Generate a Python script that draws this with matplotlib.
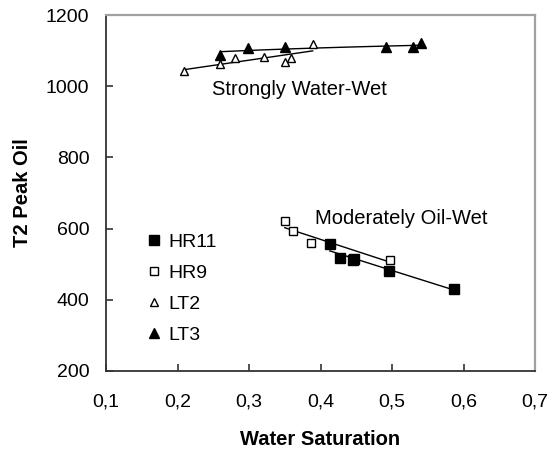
# Water saturation vs T2 peak oil, with trend lines per core
import matplotlib
matplotlib.use('Agg')
import matplotlib.pyplot as plt
import numpy as np

plt.rcParams['font.family'] = ['Liberation Sans', 'DejaVu Sans']

# data
hr11_sw = [0.413, 0.427, 0.445, 0.447, 0.496, 0.587]
hr11_t2 = [556, 517, 511, 514, 482, 431]
hr9_sw = [0.350, 0.362, 0.386, 0.497]
hr9_t2 = [620, 592, 559, 511]
lt2_sw = [0.209, 0.260, 0.280, 0.321, 0.350, 0.359, 0.389]
lt2_t2 = [1044, 1063, 1078, 1083, 1067, 1078, 1119]
lt3_sw = [0.260, 0.299, 0.350, 0.491, 0.530, 0.540]
lt3_t2 = [1089, 1106, 1111, 1109, 1109, 1120]

x_ticks = [0.1, 0.2, 0.3, 0.4, 0.5, 0.6, 0.7]
x_labels = ['0,1', '0,2', '0,3', '0,4', '0,5', '0,6', '0,7']
y_ticks = [200, 400, 600, 800, 1000, 1200]


def linear_trend(x, y):
    x = np.asarray(x)
    k, b = np.polyfit(x, y, 1)
    xs = np.linspace(x.min(), x.max(), 50)
    return xs, k * xs + b


def log_trend(x, y):
    x = np.asarray(x)
    k, b = np.polyfit(np.log(x), y, 1)
    xs = np.linspace(x.min(), x.max(), 50)
    return xs, k * np.log(xs) + b


fig = plt.figure(figsize=(5.51, 4.51), dpi=100)
ax = fig.add_axes([0.1924, 0.1774, 0.7786, 0.7893])

# trend lines first so markers sit on top
for xs, ys in [linear_trend(hr11_sw, hr11_t2), linear_trend(hr9_sw, hr9_t2),
               linear_trend(lt2_sw, lt2_t2), log_trend(lt3_sw, lt3_t2)]:
    ax.plot(xs, ys, color='black', lw=1.0, zorder=2)

ax.plot(hr11_sw, hr11_t2, ls='none', marker='s', ms=6.5, mfc='black', mec='black',
        label='HR11', zorder=3)
ax.plot(hr9_sw, hr9_t2, ls='none', marker='s', ms=5.5, mfc='white', mec='black',
        mew=1.0, label='HR9', zorder=3)
ax.plot(lt2_sw, lt2_t2, ls='none', marker='^', ms=6, mfc='white', mec='black',
        mew=1.0, label='LT2', zorder=3)
ax.plot(lt3_sw, lt3_t2, ls='none', marker='^', ms=7, mfc='black', mec='black',
        label='LT3', zorder=3)

ax.text(0.371, 992, 'Strongly Water-Wet', fontsize=14.5, ha='center', va='center')
ax.text(0.5126, 627, 'Moderately Oil-Wet', fontsize=14.5, ha='center', va='center')

ax.set_xlim(0.1, 0.7)
ax.set_ylim(200, 1200)
ax.set_xticks(x_ticks)
ax.set_xticklabels(x_labels)
ax.set_yticks(y_ticks)
ax.tick_params(direction='in', length=5, width=1.2, color='#333333', labelsize=14)
ax.tick_params(axis='x', pad=16)
ax.tick_params(axis='y', pad=12)

for side in ['left', 'bottom']:
    ax.spines[side].set_color('#333333')
    ax.spines[side].set_linewidth(1.3)
for side in ['top', 'right']:
    ax.spines[side].set_color('#a0a0a0')
    ax.spines[side].set_linewidth(1.6)

ax.set_xlabel('Water Saturation', fontsize=14.5, fontweight='bold', labelpad=14)
ax.set_ylabel('T2 Peak Oil', fontsize=14.5, fontweight='bold', labelpad=10)

ax.legend(loc='upper left', bbox_to_anchor=(0.07, 0.415), frameon=False,
          fontsize=14, handlelength=0.8, handletextpad=0.35, labelspacing=0.7,
          borderpad=0, numpoints=1)

plt.savefig('out.png', dpi=100)
